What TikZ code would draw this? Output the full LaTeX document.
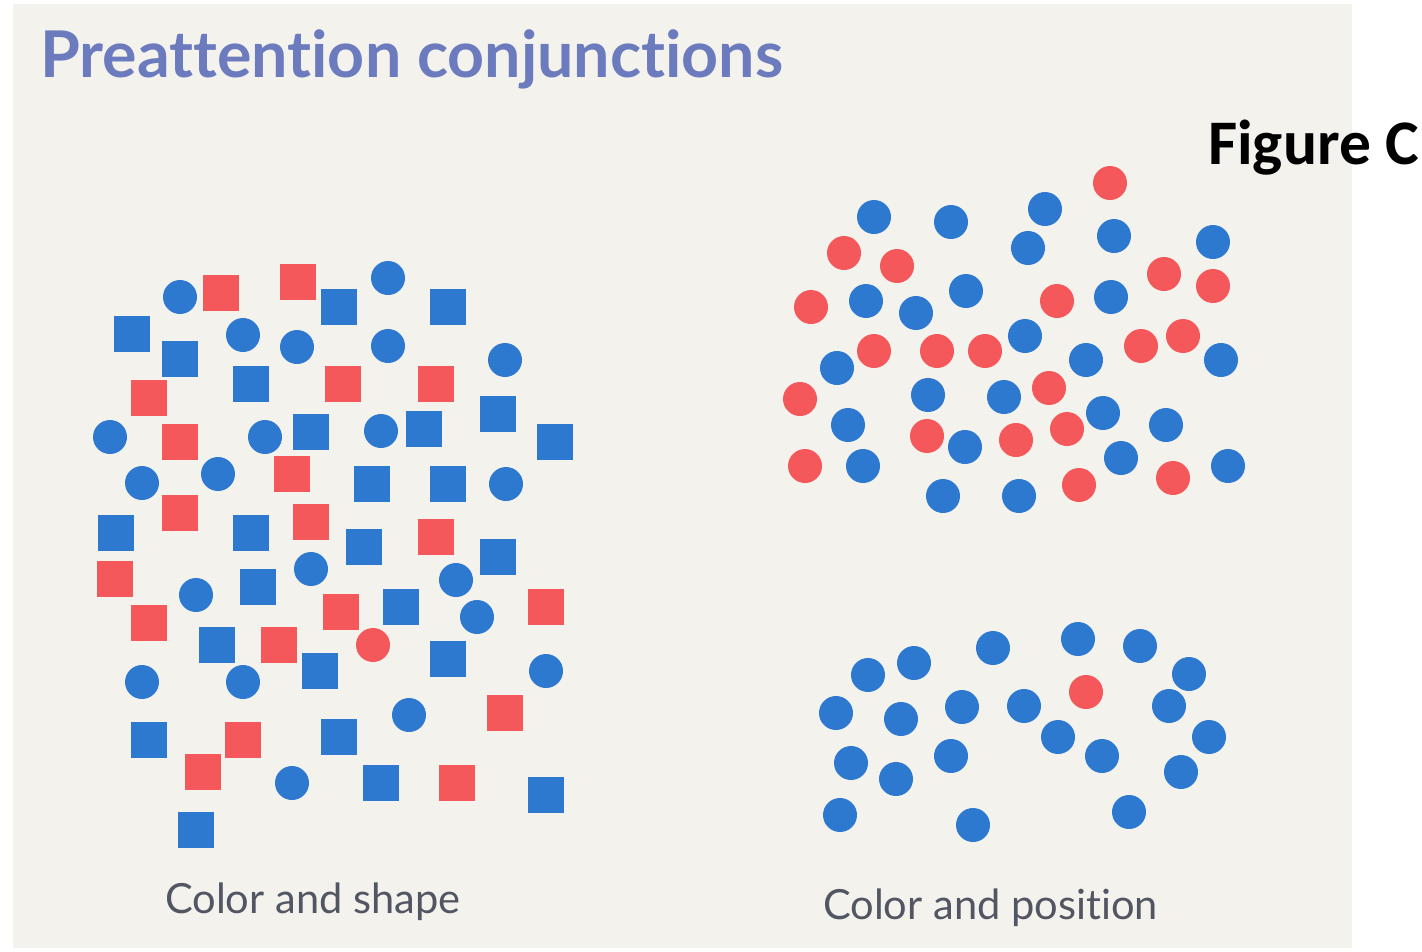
\documentclass[tikz,border=0pt]{standalone}
\usepackage{fontspec}
\setmainfont{Lato}[Ligatures=NoCommon]
\newfontfamily\figfont{Carlito}
\definecolor{paper}{RGB}{244,242,237}
\definecolor{dotblue}{RGB}{46,121,208}
\definecolor{dotred}{RGB}{245,88,90}
\definecolor{titleblue}{RGB}{108,122,190}
\definecolor{labelgrey}{RGB}{82,85,98}
\begin{document}
\begin{tikzpicture}[x=1pt,y=-1pt,
    bsq/.style={fill=dotblue},
    rsq/.style={fill=dotred},
    lbl/.style={anchor=base west,inner sep=0pt,text=labelgrey,font=\fontsize{41.6}{46}\selectfont}]
                \useasboundingbox (0,0) rectangle (1422,951);
                \fill[paper] (13,4) rectangle (1352,948);
                \node (title) at (40,77) [anchor=base west,inner sep=0pt,text=titleblue,font=\fontsize{64.5}{70}\selectfont\bfseries] {Preattention conjunctions};
                \node (fig) at (1208,164) [anchor=base west,inner sep=0pt,font=\fontsize{63.5}{68}\figfont\bfseries] {Figure C};
                \foreach \x/\y in {221/293,298/282,343/384,436/384,149/398,180/442,292/474,180/513,311/522,436/537,115/579,341/612,546/607,149/623,279/645,505/713,243/740,203/772,457/783} {
                  \fill[rsq] (\x-17.7,\y-17.7) rectangle ++(35.4,35.4);
                }
                \foreach \x/\y in {339/307,448/307,132/334,180/359,251/384,498/414,311/432,424/429,555/442,372/484,448/484,116/533,251/533,364/547,498/557,258/587,401/607,217/645,320/671,448/659,149/740,339/737,381/783,546/795,196/830} {
                  \fill[bsq] (\x-17.7,\y-17.7) rectangle ++(35.4,35.4);
                }
                \foreach \x/\y in {180/297,388/278,243/335,297/347,388/346,505/360,110/437,265/437,381/431,142/483,218/474,506/484,196/595,311/569,456/580,477/617,546/671,142/682,243/682,409/715,292/783} {
                  \fill[bsq] (\x,\y) circle (17);
                }
                \fill[rsq] (373,645) circle (17);
                \foreach \x/\y in {874/217,951/222,1045/209,1028/248,1114/236,1213/242,866/301,916/313,966/291,1111/297,1025/336,1086/360,1221/360,837/368,928/395,1004/397,848/425,965/447,1103/413,1166/425,863/466,1121/458,1228/466,943/496,1019/496} {
                  \fill[bsq] (\x,\y) circle (17);
                }
                \foreach \x/\y in {1110/183,844/253,897/266,1164/274,1213/286,811/307,1057/301,874/351,937/351,985/351,1141/346,1183/336,800/399,1049/388,927/436,1016/440,1067/429,805/466,1079/485,1173/478} {
                  \fill[rsq] (\x,\y) circle (17);
                }
                \foreach \x/\y in {993/648,1078/639,1140/646,868/675,914/663,1189/674,836/713,901/719,962/707,1024/706,1169/706,1058/737,1209/737,851/763,896/779,951/756,1102/756,1181/772,840/815,973/825,1129/812} {
                  \fill[bsq] (\x,\y) circle (17);
                }
                \fill[rsq] (1086,692) circle (17);
                \node (shape) at (165,913) [lbl] {Color and shape};
                \node (position) at (823,919) [lbl] {Color and position};
\end{tikzpicture}
\end{document}
